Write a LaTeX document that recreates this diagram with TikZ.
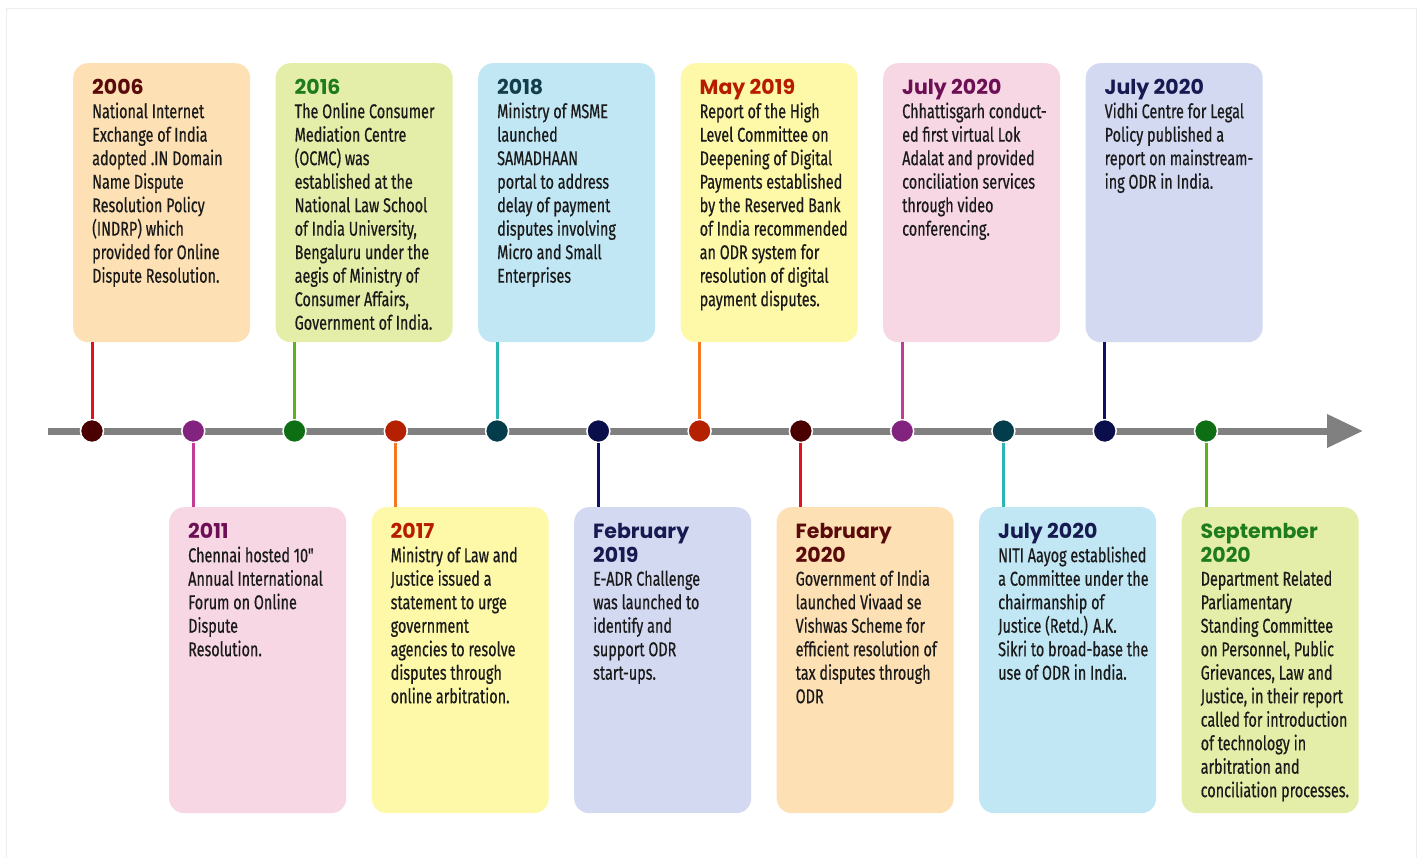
\documentclass[tikz,border=0pt]{standalone}
\usepackage{fontspec}
\newfontfamily\titlefont{Poppins}
\newfontfamily\bodyfont[FakeStretch=0.72,FakeBold=0.5]{Fira Sans}
\usetikzlibrary{arrows.meta}

% box fills
\definecolor{peach}{HTML}{FDE0B4}
\definecolor{pink}{HTML}{F6D7E3}
\definecolor{lime}{HTML}{E5EEA9}
\definecolor{lemon}{HTML}{FEF9A9}
\definecolor{sky}{HTML}{C1E6F4}
\definecolor{lavender}{HTML}{D4D9F2}
% dots
\definecolor{dmaroon}{HTML}{4A0000}
\definecolor{dpurple}{HTML}{82237F}
\definecolor{dgreen}{HTML}{0E6E14}
\definecolor{drust}{HTML}{B52100}
\definecolor{dteal}{HTML}{033C4B}
\definecolor{dnavy}{HTML}{0A0E4A}
% stems
\definecolor{sred}{HTML}{E3101E}
\definecolor{smagenta}{HTML}{C43B95}
\definecolor{sgreen}{HTML}{5CB31E}
\definecolor{sorange}{HTML}{F47920}
\definecolor{steal}{HTML}{2BB5B3}
\definecolor{snavy}{HTML}{0D1066}
% titles
\definecolor{ymaroon}{HTML}{5A0A0A}
\definecolor{ypurple}{HTML}{6D0F55}
\definecolor{ygreen}{HTML}{1E7B1E}
\definecolor{yred}{HTML}{B81C00}
\definecolor{yteal}{HTML}{123E4B}
\definecolor{ynavy}{HTML}{161A50}
\definecolor{ink}{HTML}{1A1A1A}
\definecolor{axis}{HTML}{808080}
\definecolor{frame}{HTML}{EDEDED}

\newcommand{\yr}[2]{{\titlefont\bfseries\fontsize{20.5}{23.5}\selectfont\color{#1}#2}}

\begin{document}
\begin{tikzpicture}[x=1pt,y=-1pt,
    box/.style={rounded corners=15pt,minimum width=177pt,inner sep=0pt,anchor=north west},
    upbox/.style={box,minimum height=279pt},
    lowbox/.style={box,minimum height=306pt},
    txt/.style={anchor=north west,inner sep=0pt,align=left,text=ink,
      font=\bodyfont\fontsize{20}{23.5}\selectfont},
    dot/.style={circle,minimum size=23pt,inner sep=0pt,draw=white,line width=1.5pt},
    stem/.style={line width=3pt}]
  \useasboundingbox (0,0) rectangle (1424,858);
  \draw[frame] (6,858) -- (6,8) -- (1416,8) -- (1416,858);

  % time axis
  \coordinate (tstart) at (48,431);
  \coordinate (tend) at (1363,431);
  \draw[axis,line width=7pt,-{Triangle[length=36pt,width=32pt]}] (tstart) -- (tend);

  % boxes above the axis
  \node[upbox,fill=peach] (b1) at (73,63) {};
  \node[upbox,fill=lime] (b3) at (275.5,63) {};
  \node[upbox,fill=sky] (b5) at (478,63) {};
  \node[upbox,fill=lemon] (b7) at (680.5,63) {};
  \node[upbox,fill=pink] (b9) at (883,63) {};
  \node[upbox,fill=lavender] (b11) at (1085.5,63) {};
  % boxes below the axis
  \node[lowbox,fill=pink] (b2) at (169,507) {};
  \node[lowbox,fill=lemon] (b4) at (371.5,507) {};
  \node[lowbox,fill=lavender] (b6) at (574,507) {};
  \node[lowbox,fill=peach] (b8) at (776.5,507) {};
  \node[lowbox,fill=sky] (b10) at (979,507) {};
  \node[lowbox,fill=lime] (b12) at (1181.5,507) {};

  \node[txt] (t1) at ([shift={(19,15.5)}]b1.north west) {\rule{0pt}{16pt}\yr{ymaroon}{2006}\\
    National Internet\\ Exchange of India\\ adopted .IN Domain\\ Name Dispute\\
    Resolution Policy\\ (INDRP) which\\ provided for Online\\ Dispute Resolution.};
  \node[txt] (t3) at ([shift={(19,15.5)}]b3.north west) {\rule{0pt}{16pt}\yr{ygreen}{2016}\\
    The Online Consumer\\ Mediation Centre\\ (OCMC) was\\ established at the\\
    National Law School\\ of India University,\\ Bengaluru under the\\
    aegis of Ministry of\\ Consumer Affairs,\\ Government of India.};
  \node[txt] (t5) at ([shift={(19,15.5)}]b5.north west) {\rule{0pt}{16pt}\yr{yteal}{2018}\\
    Ministry of MSME\\ launched\\ SAMADHAAN\\ portal to address\\
    delay of payment\\ disputes involving\\ Micro and Small\\ Enterprises};
  \node[txt] (t7) at ([shift={(19,15.5)}]b7.north west) {\rule{0pt}{16pt}\yr{yred}{May 2019}\\
    Report of the High\\ Level Committee on\\ Deepening of Digital\\
    Payments established\\ by the Reserved Bank\\ of India recommended\\
    an ODR system for\\ resolution of digital\\ payment disputes.};
  \node[txt] (t9) at ([shift={(19,15.5)}]b9.north west) {\rule{0pt}{16pt}\yr{ypurple}{July 2020}\\
    Chhattisgarh conduct-\\ ed first virtual Lok\\ Adalat and provided\\
    conciliation services\\ through video\\ conferencing.};
  \node[txt] (t11) at ([shift={(19,15.5)}]b11.north west) {\rule{0pt}{16pt}\yr{ynavy}{July 2020}\\
    Vidhi Centre for Legal\\ Policy published a\\ report on mainstream-\\ ing ODR in India.};

  \node[txt] (t2) at ([shift={(19,15.5)}]b2.north west) {\rule{0pt}{16pt}\yr{ypurple}{2011}\\
    Chennai hosted 10"\\ Annual International\\ Forum on Online\\ Dispute\\ Resolution.};
  \node[txt] (t4) at ([shift={(19,15.5)}]b4.north west) {\rule{0pt}{16pt}\yr{yred}{2017}\\
    Ministry of Law and\\ Justice issued a\\ statement to urge\\ government\\
    agencies to resolve\\ disputes through\\ online arbitration.};
  \node[txt] (t6) at ([shift={(19,15.5)}]b6.north west) {\rule{0pt}{16pt}\yr{ynavy}{February}\\
    \yr{ynavy}{2019}\\ E-ADR Challenge\\ was launched to\\ identify and\\
    support ODR\\ start-ups.};
  \node[txt] (t8) at ([shift={(19,15.5)}]b8.north west) {\rule{0pt}{16pt}\yr{ymaroon}{February}\\
    \yr{ymaroon}{2020}\\ Government of India\\ launched Vivaad se\\ Vishwas Scheme for\\
    efficient resolution of\\ tax disputes through\\ ODR};
  \node[txt] (t10) at ([shift={(19,15.5)}]b10.north west) {\rule{0pt}{16pt}\yr{ynavy}{July 2020}\\
    NITI Aayog established\\ a Committee under the\\ chairmanship of\\
    Justice (Retd.) A.K.\\ Sikri to broad-base the\\ use of ODR in India.};
  \node[txt] (t12) at ([shift={(19,15.5)}]b12.north west) {\rule{0pt}{16pt}\yr{ygreen}{September}\\
    \yr{ygreen}{2020}\\ Department Related\\ Parliamentary\\ Standing Committee\\
    on Personnel, Public\\ Grievances, Law and\\ Justice, in their report\\
    called for introduction\\ of technology in\\ arbitration and\\ conciliation processes.};

  % dots on the axis
  \node[dot,fill=dmaroon] (d1) at (92,431) {};
  \node[dot,fill=dpurple] (d2) at (193.3,431) {};
  \node[dot,fill=dgreen] (d3) at (294.5,431) {};
  \node[dot,fill=drust] (d4) at (395.8,431) {};
  \node[dot,fill=dteal] (d5) at (497.1,431) {};
  \node[dot,fill=dnavy] (d6) at (598.4,431) {};
  \node[dot,fill=drust] (d7) at (699.6,431) {};
  \node[dot,fill=dmaroon] (d8) at (800.9,431) {};
  \node[dot,fill=dpurple] (d9) at (902.2,431) {};
  \node[dot,fill=dteal] (d10) at (1003.4,431) {};
  \node[dot,fill=dnavy] (d11) at (1104.7,431) {};
  \node[dot,fill=dgreen] (d12) at (1206,431) {};

  % stems
  \draw[stem,sred] (d1) -- (d1 |- b1.south);
  \draw[stem,smagenta] (d2) -- (d2 |- b2.north);
  \draw[stem,sgreen] (d3) -- (d3 |- b3.south);
  \draw[stem,sorange] (d4) -- (d4 |- b4.north);
  \draw[stem,steal] (d5) -- (d5 |- b5.south);
  \draw[stem,snavy] (d6) -- (d6 |- b6.north);
  \draw[stem,sorange] (d7) -- (d7 |- b7.south);
  \draw[stem,sred] (d8) -- (d8 |- b8.north);
  \draw[stem,smagenta] (d9) -- (d9 |- b9.south);
  \draw[stem,steal] (d10) -- (d10 |- b10.north);
  \draw[stem,snavy] (d11) -- (d11 |- b11.south);
  \draw[stem,sgreen] (d12) -- (d12 |- b12.north);
\end{tikzpicture}
\end{document}
